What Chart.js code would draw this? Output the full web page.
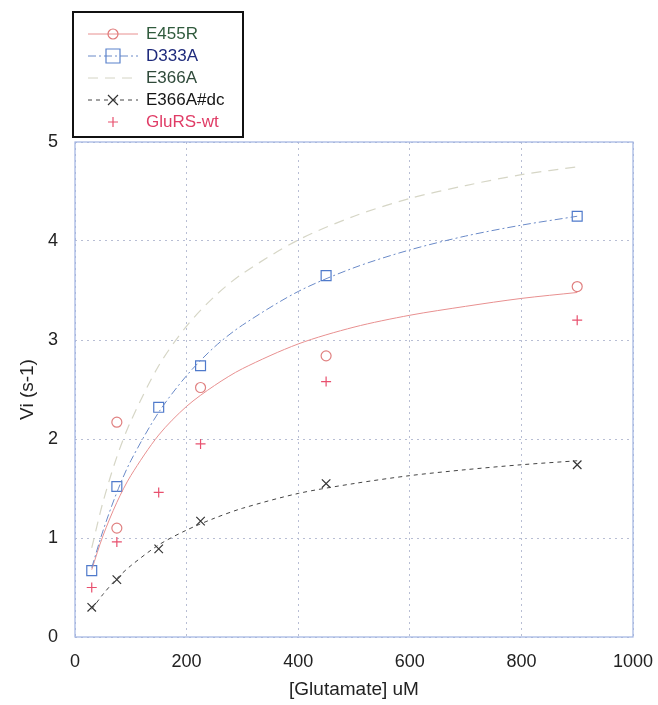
<!DOCTYPE html>
<html>
<head>
<meta charset="utf-8">
<script src="https://cdn.jsdelivr.net/npm/chart.js@4"></script>
<style>
  html, body { margin: 0; padding: 0; background: #fff; }
  #wrap { width: 658px; height: 705px; }
</style>
</head>
<body>
<div id="wrap"><canvas id="kinChart" width="658" height="705"></canvas></div>
<script>
// measured points, [Glutamate] uM
const xConc = [30, 75, 150, 225, 450, 900];
const d333aPts = [0.67, 1.52, 2.32, 2.74, 3.65, 4.25];
const e366adcPts = [0.30, 0.58, 0.89, 1.17, 1.55, 1.74];
const glursPts = [0.50, 0.96, 1.46, 1.95, 2.58, 3.20];
const e455rX = [75, 75, 225, 450, 900];
const e455rPts = [1.10, 2.17, 2.52, 2.84, 3.54];

// fitted curves
const fitX = [30, 50, 75, 100, 150, 200, 250, 300, 400, 500, 600, 700, 800, 900];
const e455rFit = [0.68, 1.02, 1.36, 1.63, 2.04, 2.33, 2.54, 2.71, 2.96, 3.13, 3.25, 3.34, 3.42, 3.48];
const d333aFit = [0.70, 1.07, 1.46, 1.78, 2.27, 2.64, 2.93, 3.15, 3.49, 3.73, 3.91, 4.05, 4.16, 4.25];
const e366aFit = [0.90, 1.36, 1.82, 2.18, 2.74, 3.14, 3.44, 3.67, 4.01, 4.25, 4.43, 4.56, 4.67, 4.75];
const e366adcFit = [0.28, 0.43, 0.59, 0.72, 0.93, 1.08, 1.20, 1.30, 1.45, 1.55, 1.63, 1.69, 1.74, 1.78];

const xTicks = [0, 200, 400, 600, 800, 1000];
const yTicks = [0, 1, 2, 3, 4, 5];

const pair = (xs, ys) => xs.map((x, i) => ({ x: x, y: ys[i] }));

const fitStyle = (data, color, dash, width) => ({
    data: data, showLine: true, borderColor: color, borderWidth: width,
    borderDash: dash, pointRadius: 0, tension: 0.3, fill: false
});
const ptStyle = (data, color, style, r) => ({
    data: data, showLine: false, pointStyle: style, pointRadius: r,
    pointBorderColor: color, pointBackgroundColor: 'rgba(0,0,0,0)', pointBorderWidth: 1.2
});

// legend entries: text, text colour, line colour, dash, marker, marker colour
const legendItems = [
    { label: 'E455R', text: '#2f5a3c', line: '#e89090', dash: [], marker: 'circle', mc: '#e07878' },
    { label: 'D333A', text: '#1e2a7c', line: '#6a8ac8', dash: [8, 3, 2, 3], marker: 'rect', mc: '#5a82cc' },
    { label: 'E366A', text: '#2f4a3a', line: '#d4d4c4', dash: [10, 7], marker: null, mc: null },
    { label: 'E366A#dc', text: '#151515', line: '#444', dash: [4, 4], marker: 'crossRot', mc: '#333' },
    { label: 'GluRS-wt', text: '#e03c66', line: null, dash: [], marker: 'cross', mc: '#e8506e' }
];

const frame = {
    id: 'frame',
    afterDraw(chart) {
        const c = chart.ctx, a = chart.chartArea;
        c.save();
        c.strokeStyle = '#9fb2e2';
        c.lineWidth = 1.2;
        c.strokeRect(a.left, a.top, a.right - a.left, a.bottom - a.top);
        // legend box
        const bx = 73, by = 12, bw = 170, bh = 125;
        c.fillStyle = '#fff';
        c.fillRect(bx, by, bw, bh);
        c.strokeStyle = '#111';
        c.lineWidth = 2;
        c.strokeRect(bx, by, bw, bh);
        c.font = '17px "Liberation Sans", Arial, sans-serif';
        c.textBaseline = 'middle';
        legendItems.forEach((it, i) => {
            const y = 34 + i * 22;
            if (it.line) {
                c.strokeStyle = it.line;
                c.lineWidth = 1;
                c.setLineDash(it.dash);
                c.beginPath();
                c.moveTo(88, y);
                c.lineTo(138, y);
                c.stroke();
                c.setLineDash([]);
            }
            if (it.marker) {
                c.strokeStyle = it.mc;
                c.lineWidth = 1.2;
                c.beginPath();
                if (it.marker === 'circle') c.arc(113, y, 5, 0, Math.PI * 2);
                else if (it.marker === 'rect') c.rect(106, y - 7, 14, 14);
                else if (it.marker === 'crossRot') { c.moveTo(108, y - 5); c.lineTo(118, y + 5); c.moveTo(118, y - 5); c.lineTo(108, y + 5); }
                else { c.moveTo(113, y - 5); c.lineTo(113, y + 5); c.moveTo(108, y); c.lineTo(118, y); }
                c.stroke();
            }
            c.fillStyle = it.text;
            c.fillText(it.label, 146, y);
        });
        c.restore();
    }
};

const tickFont = { family: '"Liberation Sans", Arial, sans-serif', size: 18 };

new Chart(document.getElementById('kinChart'), {
    type: 'scatter',
    data: {
        datasets: [
            fitStyle(pair(fitX, e366aFit), '#d6d6c6', [10, 7], 1.2),
            fitStyle(pair(fitX, d333aFit), '#6a8ac8', [8, 3, 2, 3], 1),
            fitStyle(pair(fitX, e455rFit), '#e89090', [], 1),
            fitStyle(pair(fitX, e366adcFit), '#444', [4, 4], 1),
            ptStyle(pair(e455rX, e455rPts), '#e08080', 'circle', 5),
            ptStyle(pair(xConc, d333aPts), '#4f7acb', 'rect', 7),
            ptStyle(pair(xConc, e366adcPts), '#333', 'crossRot', 6),
            ptStyle(pair(xConc, glursPts), '#e8506e', 'cross', 5)
        ]
    },
    options: {
        responsive: false,
        animation: false,
        layout: { padding: { top: 142, right: 25, left: 0, bottom: 0 } },
        plugins: { legend: { display: false }, tooltip: { enabled: false } },
        scales: {
            x: {
                type: 'linear', min: 0, max: 1000,
                afterBuildTicks: (s) => { s.ticks = xTicks.map(v => ({ value: v })); },
                afterFit: (s) => { s.height = 68; s.paddingLeft = 0; s.paddingRight = 0; },
                grid: { color: '#b8bed4', drawTicks: false },
                border: { display: false, dash: [2, 4] },
                ticks: { font: tickFont, color: '#222', padding: 14, callback: (v) => String(v) },
                title: { display: true, text: '[Glutamate] uM', font: { family: tickFont.family, size: 19 }, color: '#222', padding: { top: 3 } }
            },
            y: {
                type: 'linear', min: 0, max: 5,
                afterBuildTicks: (s) => { s.ticks = yTicks.map(v => ({ value: v })); },
                afterFit: (s) => { s.width = 75; },
                grid: { color: '#b8bed4', drawTicks: false },
                border: { display: false, dash: [2, 4] },
                ticks: { font: tickFont, color: '#222', padding: 17, callback: (v) => String(v) },
                title: { display: true, text: 'Vi (s-1)', font: { family: tickFont.family, size: 19 }, color: '#222', padding: { top: 16, bottom: 0 } }
            }
        }
    },
    plugins: [frame]
});
</script>
</body>
</html>
